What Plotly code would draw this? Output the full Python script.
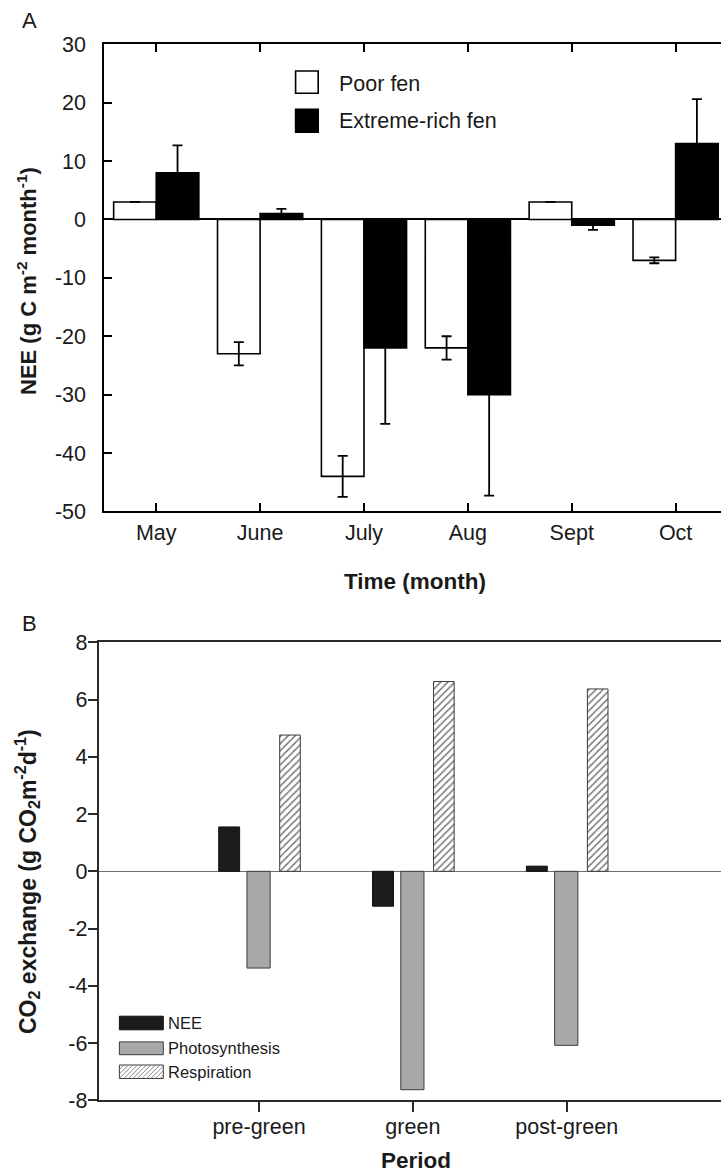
import plotly.graph_objects as go

W, H = 721, 1175
FONT = "Liberation Sans, Arial, sans-serif"

# ---------------- data: panel A ----------------
months = ["May", "June", "July", "Aug", "Sept", "Oct"]
poor_fen = [3, -23, -44, -22, 3, -7]
poor_fen_err = [0, 2.0, 3.5, 2.0, 0, 0.5]
rich_fen = [8, 1, -22, -30, -1, 13]
rich_fen_err = [4.7, 0.8, 13.0, 17.3, 0.8, 7.6]
yticks_a = [30, 20, 10, 0, -10, -20, -30, -40, -50]

# ---------------- data: panel B ----------------
periods = ["pre-green", "green", "post-green"]
nee = [1.55, -1.22, 0.18]
photosynthesis = [-3.38, -7.63, -6.08]
respiration = [4.76, 6.63, 6.37]
yticks_b = [8, 6, 4, 2, 0, -2, -4, -6, -8]


def fx(p):
    return p / W


def fy(p):
    return 1 - p / H


fig = go.Figure()

# Panel A bars
fig.add_trace(go.Bar(
    x=months, y=poor_fen, width=0.41, offset=-0.41, name="Poor fen",
    marker=dict(color="white", line=dict(color="black", width=1.6)),
    error_y=dict(type="data", array=poor_fen_err, color="black", thickness=1.8, width=5),
    xaxis="x", yaxis="y", showlegend=False))
fig.add_trace(go.Bar(
    x=months, y=rich_fen, width=0.41, offset=0.0, name="Extreme-rich fen",
    marker=dict(color="black", line=dict(color="black", width=1.6)),
    error_y=dict(type="data", array=rich_fen_err, color="black", thickness=1.8, width=5),
    xaxis="x", yaxis="y", showlegend=False))

# Panel B bars
fig.add_trace(go.Bar(
    x=periods, y=nee, width=0.136, offset=-0.262, name="NEE",
    marker=dict(color="#1c1c1c", line=dict(color="#111111", width=1)),
    xaxis="x2", yaxis="y2", showlegend=False))
fig.add_trace(go.Bar(
    x=periods, y=photosynthesis, width=0.151, offset=-0.0785, name="Photosynthesis",
    marker=dict(color="#a8a8a8", line=dict(color="#3c3c3c", width=1)),
    xaxis="x2", yaxis="y2", showlegend=False))
fig.add_trace(go.Bar(
    x=periods, y=respiration, width=0.134, offset=0.1345, name="Respiration",
    marker=dict(color="white", line=dict(color="#3c3c3c", width=1),
                pattern=dict(shape="/", fgcolor="#7a7a7a", bgcolor="white",
                             size=5, solidity=0.3, fillmode="replace")),
    xaxis="x2", yaxis="y2", showlegend=False))

tickfont = dict(family=FONT, size=21.5, color="#1a1a1a")

fig.update_layout(
    width=W, height=H,
    margin=dict(l=0, r=0, t=0, b=0, autoexpand=False),
    paper_bgcolor="white", plot_bgcolor="white",
    barmode="overlay", showlegend=False,
    font=dict(family=FONT, color="#1a1a1a"),
    xaxis=dict(
        domain=[fx(104.3), 1], anchor="y", type="category",
        categoryorder="array", categoryarray=months,
        range=[-0.5, 5.437],
        ticks="inside", ticklen=8, tickwidth=1.5, tickcolor="black",
        showline=True, linecolor="black", linewidth=2, mirror="allticks",
        showgrid=False, zeroline=False, tickfont=tickfont, ticklabelstandoff=1),
    yaxis=dict(
        domain=[fy(511.4), fy(44.3)], anchor="x",
        range=[-50, 30], tickvals=yticks_a, ticktext=[str(v) for v in yticks_a],
        ticks="inside", ticklen=8, tickwidth=1.5, tickcolor="black",
        showline=True, linecolor="black", linewidth=2, mirror=False,
        showgrid=False, zeroline=True, zerolinecolor="black", zerolinewidth=1.6,
        tickfont=tickfont, ticklabelstandoff=12),
    xaxis2=dict(
        domain=[fx(98.7), 1], anchor="y2", type="category",
        categoryorder="array", categoryarray=periods,
        range=[-1.042, 3.003],
        ticks="outside", ticklen=10, tickwidth=1.5, tickcolor="#2a2a2a",
        showline=True, linecolor="#2a2a2a", linewidth=2, mirror=True,
        showgrid=False, zeroline=False, tickfont=tickfont, ticklabelstandoff=-4),
    yaxis2=dict(
        domain=[fy(1100.3), fy(642.3)], anchor="x2",
        range=[-8, 8], tickvals=yticks_b, ticktext=[str(v) for v in yticks_b],
        ticks="outside", ticklen=9, tickwidth=1.5, tickcolor="#2a2a2a",
        showline=True, linecolor="#2a2a2a", linewidth=2, mirror=False,
        showgrid=False, zeroline=True, zerolinecolor="#6e6e6e", zerolinewidth=1.3,
        tickfont=tickfont, ticklabelstandoff=-4),
)

# ---------------- custom legends ----------------
shapes = []


def rect(x0, x1, y0, y1, fill, line, lw=1.5):
    shapes.append(dict(type="rect", xref="paper", yref="paper",
                       x0=fx(x0), x1=fx(x1), y0=fy(y1), y1=fy(y0),
                       fillcolor=fill, line=dict(color=line, width=lw), layer="above"))


# Panel A legend
rect(295.6, 318.2, 71.0, 93.3, "white", "black", 1.6)
rect(295.6, 318.2, 109.3, 132.3, "black", "black", 1.6)

# Panel B legend
rect(119.4, 163.3, 1016.2, 1029.8, "#1c1c1c", "#111111", 1)
rect(119.4, 163.3, 1041.9, 1054.7, "#a8a8a8", "#3c3c3c", 1)
rect(119.4, 163.3, 1065.0, 1078.5, "white", "#3c3c3c", 1)

# hatch for the respiration legend box
hx0, hx1, hy0, hy1 = 119.4, 163.3, 1065.0, 1078.5
hh = hy1 - hy0
segs = []
c = hx0 - hh
while c < hx1:
    t_lo = max(0.0, hx0 - c)
    t_hi = min(hh, hx1 - c)
    if t_hi - t_lo > 0.3:
        xa, ya = c + t_lo, hy1 - t_lo
        xb, yb = c + t_hi, hy1 - t_hi
        segs.append("M%.5f,%.5f L%.5f,%.5f" % (fx(xa), fy(ya), fx(xb), fy(yb)))
    c += 4.5
shapes.append(dict(type="path", xref="paper", yref="paper", path=" ".join(segs),
                   line=dict(color="#7a7a7a", width=0.9), layer="above"))

fig.update_layout(shapes=shapes)

ann = []


def text(x, y, s, size, xanchor="center", angle=0):
    ann.append(dict(x=fx(x), y=fy(y), xref="paper", yref="paper", text=s,
                    showarrow=False, xanchor=xanchor, yanchor="middle",
                    textangle=angle, font=dict(family=FONT, size=size, color="#1a1a1a")))


text(337, 84, "Poor fen", 21.5, xanchor="left")
text(337, 120.5, "Extreme-rich fen", 21.5, xanchor="left")
text(166, 1023, "NEE", 16.5, xanchor="left")
text(166, 1048, "Photosynthesis", 16.5, xanchor="left")
text(166, 1072, "Respiration", 16.5, xanchor="left")

# panel letters
text(29, 21, "A", 22)
text(29, 624, "B", 22)

# axis titles
text(27, 281, "<b>NEE (g C m<sup>-2</sup> month<sup>-1</sup>)</b>", 22, angle=-90)
text(415, 581, "<b>Time (month)</b>", 22.5)
text(27, 882, "<b>CO<sub>2</sub> exchange (g CO<sub>2</sub>m<sup>-2</sup>d<sup>-1</sup>)</b>", 23, angle=-90)
text(416, 1160, "<b>Period</b>", 22.5)

fig.update_layout(annotations=ann)

fig.write_html(
    "out.html",
    config={"displayModeBar": False},
    post_script="document.body.style.margin='0';document.body.style.padding='0';"
                "document.body.style.overflow='hidden';",
)
